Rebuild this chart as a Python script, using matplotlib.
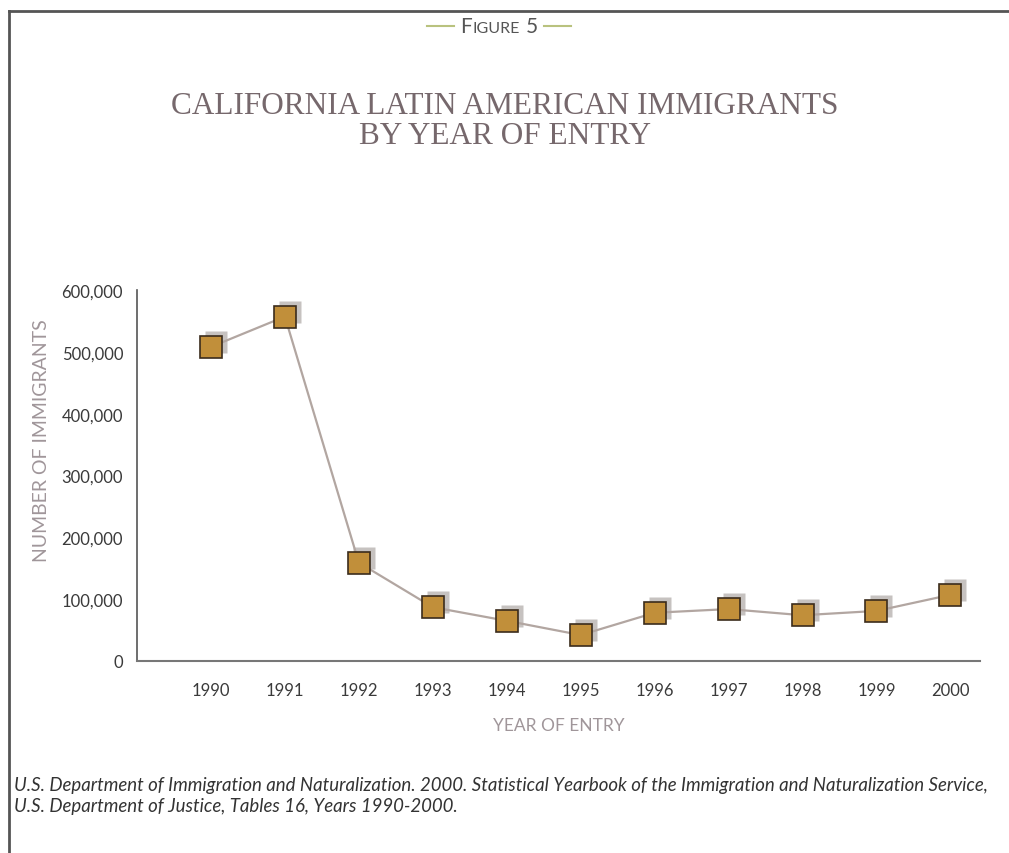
import matplotlib
matplotlib.use("Agg")
import matplotlib.pyplot as plt
import matplotlib.transforms as mtransforms
from matplotlib.lines import Line2D
from matplotlib.ticker import FuncFormatter

# данные
years = [1990, 1991, 1992, 1993, 1994, 1995, 1996, 1997, 1998, 1999, 2000]
immigrants = [508000, 557000, 159000, 87000, 65000, 42000, 78000, 84000, 74000, 81000, 107000]
yticks = [0, 100000, 200000, 300000, 400000, 500000, 600000]

title_col = '#76686c'
label_col = '#a0969a'
tick_col = '#3a3a3a'

fig = plt.figure(figsize=(10.09, 8.54), dpi=100)

# рамка сверху и слева
fig.add_artist(Line2D([8.5/1009, 8.5/1009], [0, 1 - 11.5/854], transform=fig.transFigure, color='#555555', lw=2))
fig.add_artist(Line2D([8.5/1009, 1], [1 - 11.5/854, 1 - 11.5/854], transform=fig.transFigure, color='#555555', lw=2))

ax = fig.add_axes([137/1009, 1 - 662/854, (980 - 137)/1009, (662 - 291)/854])

# тени маркеров
shadow = mtransforms.offset_copy(ax.transData, fig=fig, x=5, y=5, units='dots')
ax.plot(years, immigrants, 's', ms=15.5, color='#c6c2c0', mec='none', transform=shadow, zorder=1)
ax.plot(years, immigrants, '-', color='#b2a6a1', lw=1.6, zorder=2)
ax.plot(years, immigrants, 's', ms=15.5, color='#c18f3a', mec='#3b2c1c', mew=1.2, zorder=3)

ax.set_xlim(1989.0, 2000.4)
ax.set_ylim(0, 600000)
ax.set_xticks(years)
ax.set_yticks(yticks)
ax.yaxis.set_major_formatter(FuncFormatter(lambda v, p: f"{int(v):,}"))
ax.tick_params(length=0, labelsize=12, colors=tick_col)
ax.tick_params(axis='y', pad=10)
ax.tick_params(axis='x', pad=15)
for lab in ax.get_xticklabels() + ax.get_yticklabels():
    lab.set_fontfamily('Lato')
for s in ['top', 'right']:
    ax.spines[s].set_visible(False)
ax.spines['left'].set_color('#555555')
ax.spines['bottom'].set_color('#777777')
ax.spines['left'].set_linewidth(1.2)
ax.spines['bottom'].set_linewidth(1.5)

ax.set_ylabel('NUMBER OF IMMIGRANTS', fontsize=14, color=label_col, family='Lato')
ax.yaxis.set_label_coords(-0.103, 0.598)
ax.set_xlabel('YEAR OF ENTRY', fontsize=12.5, color=label_col, family='Lato')
ax.xaxis.set_label_coords(0.5, -0.151)

# заголовок
fig.text(505/1009, 1 - 106/854, 'CALIFORNIA LATIN AMERICAN IMMIGRANTS', ha='center', va='center',
         fontsize=22.5, color=title_col, family='Liberation Serif')
fig.text(505/1009, 1 - 137/854, 'BY YEAR OF ENTRY', ha='center', va='center',
         fontsize=22.5, color=title_col, family='Liberation Serif')

# "FIGURE 5" капителью
base = 1 - 33/854
x0 = 460
t1 = fig.text(x0/1009, base, 'F', ha='left', va='baseline', fontsize=15, color='#555555', family='Lato')
fig.canvas.draw()
r = fig.canvas.get_renderer()
w = t1.get_window_extent(r).width
t2 = fig.text((x0 + w + 1)/1009, base, 'IGURE', ha='left', va='baseline', fontsize=11.5, color='#555555', family='Lato')
w2 = t2.get_window_extent(r).width
t3 = fig.text((x0 + w + w2 + 7)/1009, base, '5', ha='left', va='baseline', fontsize=15, color='#555555', family='Lato')
w3 = t3.get_window_extent(r).width
xend = x0 + w + w2 + 7 + w3
fig.add_artist(Line2D([(x0 - 33)/1009, (x0 - 6)/1009], [1 - 27/854, 1 - 27/854], transform=fig.transFigure, color='#b9c27e', lw=1.5))
fig.add_artist(Line2D([(xend + 6)/1009, (xend + 33)/1009], [1 - 27/854, 1 - 27/854], transform=fig.transFigure, color='#b9c27e', lw=1.5))

# источник
fig.text(14/1009, 1 - 786/854, 'U.S. Department of Immigration and Naturalization. 2000. Statistical Yearbook of the Immigration and Naturalization Service,',
         ha='left', va='center', fontsize=13.4, style='italic', color='#333333', family='Lato')
fig.text(14/1009, 1 - 807/854, 'U.S. Department of Justice, Tables 16, Years 1990-2000.',
         ha='left', va='center', fontsize=13.4, style='italic', color='#333333', family='Lato')

fig.savefig('out.png', dpi=100)
